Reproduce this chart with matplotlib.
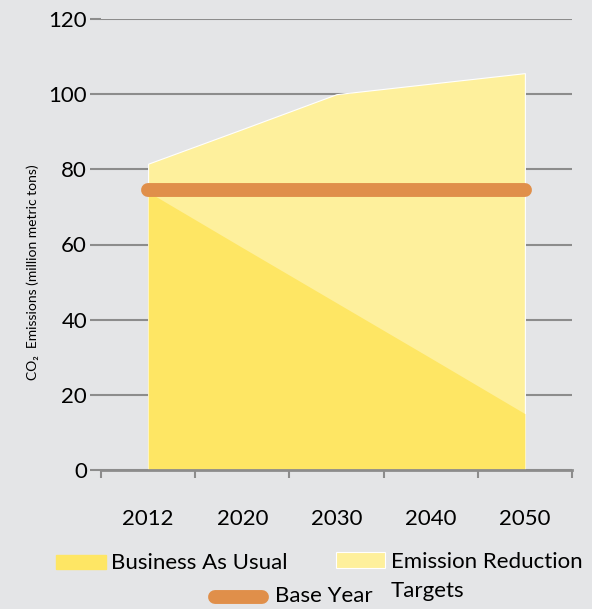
import matplotlib.pyplot as plt
from matplotlib.patches import Rectangle
from matplotlib.lines import Line2D

years = ["2012", "2020", "2030", "2040", "2050"]
business_as_usual = [74, 59.2, 44.5, 29.8, 15]
reduction_targets = [81.5, 90.7, 100, 102.8, 105.6]
base_year = [74.5, 74.5, 74.5, 74.5, 74.5]

bg = "#e4e5e7"
c_bau = "#fee664"
c_ert = "#fef09c"
c_base = "#e08f4a"
c_grid = "#8c8c8c"
font = ["Lato", "DejaVu Sans"]
plt.rcParams["font.family"] = font
fs = 16

fig = plt.figure(figsize=(5.92, 6.09), dpi=100, facecolor=bg)
ax = fig.add_axes([101 / 592, 1 - 470 / 609, 471 / 592, 451 / 609], facecolor=bg)

x = list(range(len(years)))
# emission reduction area (behind), then business as usual on top
ax.fill_between(x, 0, reduction_targets, color=c_ert, edgecolor="white", linewidth=0.8, zorder=2)
ax.fill_between(x, 0, business_as_usual, color=c_bau, linewidth=0, zorder=3)
ax.plot(x, base_year, color=c_base, linewidth=10, solid_capstyle="round", zorder=4)

ax.set_xlim(-0.5, 4.5)
ax.set_ylim(0, 120)
ax.set_yticks(range(0, 121, 20))
ax.yaxis.grid(True, color=c_grid, linewidth=1.5, zorder=1)
ax.set_axisbelow(True)

ax.set_xticks([i + 0.5 for i in range(-1, 5)])
ax.set_xticklabels([])
ax.set_xticks(x, minor=True)
ax.set_xticklabels(years, minor=True, fontsize=fs)
ax.tick_params(axis="x", which="major", length=6, width=1.5, color=c_grid, direction="out")
ax.tick_params(axis="x", which="minor", length=0, pad=28)
ax.tick_params(axis="y", length=8, width=1.5, color=c_grid, labelsize=fs, pad=2)

for s in ["top", "right", "left"]:
    ax.spines[s].set_visible(False)
ax.spines["bottom"].set_color(c_grid)
ax.spines["bottom"].set_linewidth(2)
ax.spines["bottom"].set_zorder(5)

fig.text(33 / 592, 1 - 272 / 609, "CO₂  Emissions (million metric tons)", rotation=90,
         ha="center", va="center", fontsize=10)

# legend
fig.patches.append(Rectangle((56 / 592, 1 - 569 / 609), 50 / 592, 14 / 609,
                             transform=fig.transFigure, color=c_bau))
fig.text(111 / 592, 1 - 563 / 609, "Business As Usual", fontsize=fs, va="center")
fig.patches.append(Rectangle((336 / 592, 1 - 568 / 609), 49 / 592, 16 / 609,
                             transform=fig.transFigure, facecolor=c_ert, edgecolor="white", linewidth=0.8))
fig.text(391 / 592, 1 - 562 / 609, "Emission Reduction", fontsize=fs, va="center")
fig.text(391 / 592, 1 - 591 / 609, "Targets", fontsize=fs, va="center")
fig.lines.append(Line2D([215 / 592, 262 / 592], [1 - 597 / 609, 1 - 597 / 609],
                        transform=fig.transFigure, color=c_base, linewidth=10, solid_capstyle="round"))
fig.text(275 / 592, 1 - 596 / 609, "Base Year", fontsize=fs, va="center")

fig.savefig("out.png", dpi=100, facecolor=bg)
